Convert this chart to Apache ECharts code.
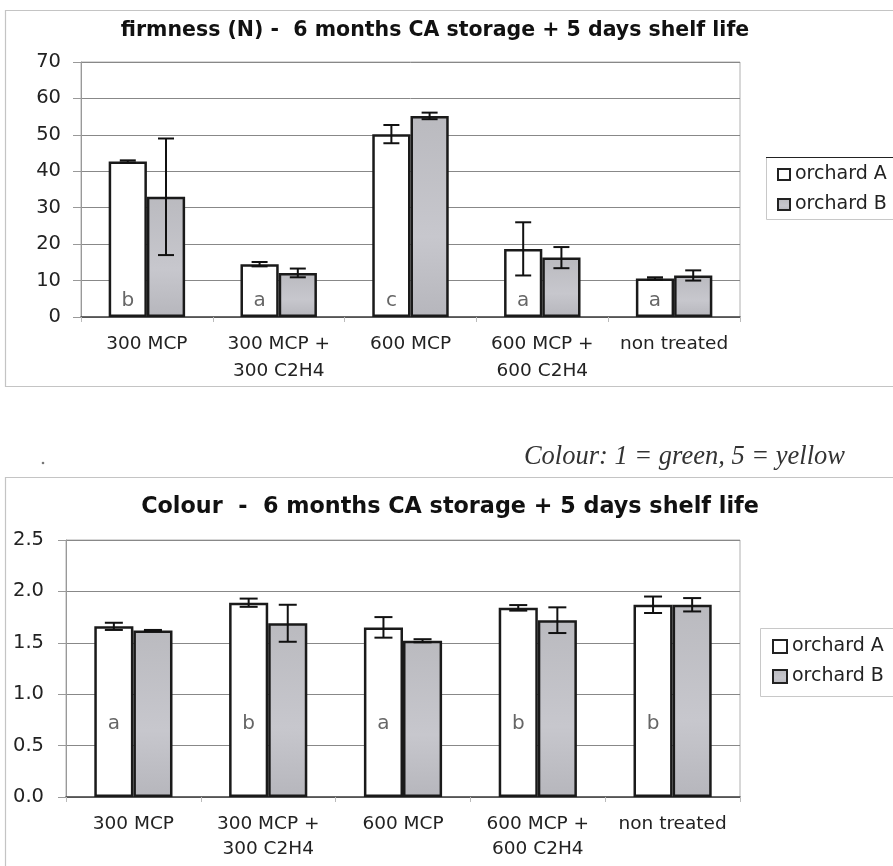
<!DOCTYPE html>
<html>
<head>
<meta charset="utf-8">
<script src="https://cdn.jsdelivr.net/npm/echarts@6/dist/echarts.min.js"></script>
<style>
  html, body { margin: 0; padding: 0; background: #fff; }
  #chart { width: 893px; height: 866px; }
</style>
</head>
<body>
<div id="chart"></div>
<script>
// Treatments on the x axis
const categories = ['300 MCP', '300 MCP +\n300 C2H4', '600 MCP', '600 MCP +\n600 C2H4', 'non treated'];
const seriesNames = ['orchard A', 'orchard B'];

// Firmness (N)
const firmA = [42.7, 14.5, 50.2, 18.7, 10.6];
const firmAErr = [0.3, 0.6, 2.5, 7.3, 0.3];
const firmB = [33.0, 12.1, 55.2, 16.3, 11.4];
const firmBErr = [16.0, 1.2, 0.9, 2.9, 1.4];
const firmLetters = ['b', 'a', 'c', 'a', 'a'];

// Colour score (1 = green, 5 = yellow)
const colA = [1.66, 1.89, 1.65, 1.84, 1.87];
const colAErr = [0.035, 0.04, 0.10, 0.027, 0.08];
const colB = [1.62, 1.69, 1.52, 1.72, 1.87];
const colBErr = [0.005, 0.18, 0.015, 0.125, 0.065];
const colLetters = ['a', 'b', 'a', 'b', 'b'];

// Axis ticks
const firmAxis = { min: 0, max: 70, interval: 10 };
const colAxis = { min: 0, max: 2.5, interval: 0.5 };

const CAT_GAP = 0.42;
const SANS = '"DejaVu Sans", sans-serif';
const greyFill = new echarts.graphic.LinearGradient(0, 0, 0, 1, [
  { offset: 0, color: '#bababf' },
  { offset: 0.6, color: '#c7c7cd' },
  { offset: 1, color: '#b6b6bc' }
]);

function errData(vals, errs) {
  return vals.map((v, i) => [i, v - errs[i], v + errs[i]]);
}

function errorSeries(name, side, gridIdx, vals, errs, cap) {
  return {
    type: 'custom',
    name: name,
    xAxisIndex: gridIdx,
    yAxisIndex: gridIdx,
    data: errData(vals, errs),
    encode: { x: 0, y: [1, 2] },
    z: 5,
    silent: true,
    renderItem: function (params, api) {
      const cat = api.value(0);
      const lo = api.coord([cat, api.value(1)]);
      const hi = api.coord([cat, api.value(2)]);
      const band = api.size([1, 0])[0];
      const barW = band * (1 - CAT_GAP) / 2;
      const x = lo[0] + side * barW / 2;
      const style = { stroke: '#111', lineWidth: 2 };
      return {
        type: 'group',
        children: [
          { type: 'line', shape: { x1: x, y1: lo[1], x2: x, y2: hi[1] }, style: style },
          { type: 'line', shape: { x1: x - cap, y1: hi[1], x2: x + cap, y2: hi[1] }, style: style },
          { type: 'line', shape: { x1: x - cap, y1: lo[1], x2: x + cap, y2: lo[1] }, style: style }
        ]
      };
    }
  };
}

function barSeries(name, gridIdx, vals, fill, letters, letterDist) {
  const s = {
    type: 'bar',
    name: name,
    xAxisIndex: gridIdx,
    yAxisIndex: gridIdx,
    data: vals,
    barGap: '0%',
    barCategoryGap: (CAT_GAP * 100) + '%',
    itemStyle: { color: fill, borderColor: '#1a1a1a', borderWidth: 2.5 },
    emphasis: { disabled: true }
  };
  if (letters) {
    s.label = {
      show: true,
      position: 'insideBottom',
      distance: letterDist,
      formatter: p => letters[p.dataIndex],
      color: '#666',
      fontSize: 20,
      fontFamily: SANS
    };
  }
  return s;
}

function xAxis(gridIdx, margin, lineHeight) {
  return {
    type: 'category',
    gridIndex: gridIdx,
    data: categories,
    axisLine: { lineStyle: { color: '#444', width: 1.5 } },
    axisTick: { show: true, length: 5, lineStyle: { color: '#bbb' } },
    axisLabel: { color: '#222', fontSize: 18.5, fontFamily: SANS, margin: margin, lineHeight: lineHeight, interval: 0 },
    splitLine: { show: false }
  };
}

function yAxis(gridIdx, cfg, fmt, margin) {
  return {
    type: 'value',
    gridIndex: gridIdx,
    min: cfg.min, max: cfg.max, interval: cfg.interval,
    axisLine: { show: true, lineStyle: { color: '#999' } },
    axisTick: { show: true, length: 8, lineStyle: { color: '#999' } },
    axisLabel: { color: '#222', fontSize: 19.5, fontFamily: SANS, margin: margin, formatter: fmt },
    splitLine: { show: true, lineStyle: { color: '#888', width: 1 } }
  };
}

function legend(left, top, size) {
  return {
    data: seriesNames, orient: 'vertical', left: left, top: top, itemGap: 11,
    icon: 'rect', itemWidth: size, itemHeight: size - 1,
    itemStyle: { borderColor: '#222', borderWidth: 2 },
    textStyle: { color: '#222', fontSize: 19, fontFamily: SANS },
    selectedMode: false
  };
}

const chart = echarts.init(document.getElementById('chart'), null, { renderer: 'canvas' });

chart.setOption({
  animation: false,
  backgroundColor: '#fff',
  grid: [
    { left: 81, top: 62, right: 153, height: 255, show: true, borderColor: '#b0b0b0', borderWidth: 1, backgroundColor: 'transparent' },
    { left: 66, top: 540, right: 153, height: 257, show: true, borderColor: '#b0b0b0', borderWidth: 1, backgroundColor: 'transparent' }
  ],
  xAxis: [xAxis(0, 14, 27), xAxis(1, 15, 25)],
  yAxis: [
    yAxis(0, firmAxis, v => String(v), 20),
    yAxis(1, colAxis, v => v.toFixed(1), 22)
  ],
  legend: [legend(772, 160, 12), legend(767, 632, 14)],
  graphic: [
    // outer frames of the two panels
    { type: 'rect', shape: { x: 5.5, y: 10.5, width: 900, height: 376 }, style: { fill: 'none', stroke: '#c4c4c4', lineWidth: 1.2 }, silent: true },
    { type: 'rect', shape: { x: 5.5, y: 477.5, width: 900, height: 440 }, style: { fill: 'none', stroke: '#c4c4c4', lineWidth: 1.2 }, silent: true },
    // legend boxes
    { type: 'rect', shape: { x: 766.5, y: 157.5, width: 140, height: 62 }, style: { fill: 'none', stroke: '#c8c8c8', lineWidth: 1 }, silent: true },
    { type: 'line', shape: { x1: 766, y1: 157.5, x2: 893, y2: 157.5 }, style: { stroke: '#222', lineWidth: 1.2 }, silent: true },
    { type: 'rect', shape: { x: 760.5, y: 628.5, width: 140, height: 68 }, style: { fill: 'none', stroke: '#c8c8c8', lineWidth: 1 }, silent: true },
    // panel titles
    { type: 'text', x: 435, y: 31, style: { text: 'firmness (N) -  6 months CA storage + 5 days shelf life', textAlign: 'center', textVerticalAlign: 'middle', font: 'bold 20.5px "DejaVu Sans", sans-serif', fill: '#111' }, silent: true },
    { type: 'text', x: 450, y: 507, style: { text: 'Colour  -  6 months CA storage + 5 days shelf life', textAlign: 'center', textVerticalAlign: 'middle', font: 'bold 22.3px "DejaVu Sans", sans-serif', fill: '#111' }, silent: true },
    // scale note above the colour panel
    { type: 'text', x: 845, y: 457, style: { text: 'Colour: 1 = green, 5 = yellow', textAlign: 'right', textVerticalAlign: 'middle', font: 'italic 26.5px "Liberation Serif", "DejaVu Serif", serif', fill: '#333' }, silent: true },
    { type: 'circle', shape: { cx: 43, cy: 463, r: 1.3 }, style: { fill: '#777' }, silent: true }
  ],
  series: [
    barSeries('orchard A', 0, firmA, '#ffffff', firmLetters, 6),
    barSeries('orchard B', 0, firmB, greyFill, null, 0),
    errorSeries('orchard A', -1, 0, firmA, firmAErr, 8),
    errorSeries('orchard B', 1, 0, firmB, firmBErr, 8),
    barSeries('orchard A', 1, colA, '#ffffff', colLetters, 63),
    barSeries('orchard B', 1, colB, greyFill, null, 0),
    errorSeries('orchard A', -1, 1, colA, colAErr, 9),
    errorSeries('orchard B', 1, 1, colB, colBErr, 9)
  ]
});
</script>
</body>
</html>
